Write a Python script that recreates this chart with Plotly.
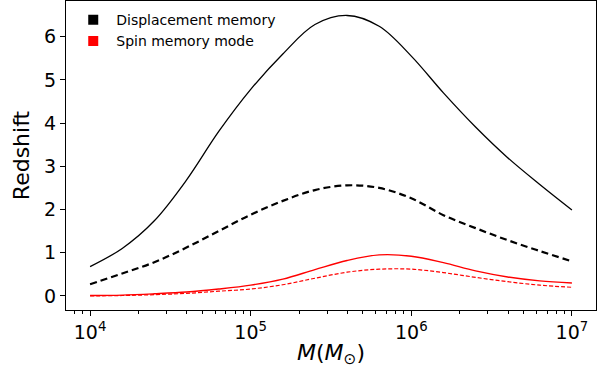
import plotly.graph_objects as go

# log10 of mass (M_sun) at which values were read
log_mass = [4.0, 4.2, 4.4, 4.6, 4.8, 5.0, 5.2, 5.4, 5.6, 5.8, 6.0, 6.2, 6.4, 6.6, 6.8, 7.0]

disp_solid = [0.68, 1.10, 1.74, 2.68, 3.80, 4.78, 5.60, 6.28, 6.49, 6.24, 5.55, 4.70, 3.91, 3.20, 2.58, 1.99]
disp_dash = [0.27, 0.52, 0.78, 1.12, 1.50, 1.88, 2.20, 2.45, 2.56, 2.50, 2.26, 1.87, 1.57, 1.29, 1.04, 0.80]
spin_solid = [0.01, 0.02, 0.05, 0.09, 0.16, 0.25, 0.39, 0.61, 0.82, 0.95, 0.92, 0.77, 0.58, 0.44, 0.35, 0.30]
spin_dash = [0.00, 0.01, 0.03, 0.06, 0.11, 0.16, 0.26, 0.41, 0.55, 0.62, 0.62, 0.54, 0.43, 0.33, 0.25, 0.20]

legend_names = ["Displacement memory", "Spin memory mode"]
legend_colors = ["black", "red"]

x_tickvals = [1e4, 1e5, 1e6, 1e7]
x_ticktext = ["10<sup>4</sup>", "10<sup>5</sup>", "10<sup>6</sup>", "10<sup>7</sup>"]
y_tickvals = [0, 1, 2, 3, 4, 5, 6]

mass = [10 ** v for v in log_mass]

fig = go.Figure()
fig.add_trace(go.Scatter(x=mass, y=disp_solid, mode="lines", line=dict(color="black", width=1.3, shape="spline", smoothing=1.0), showlegend=False))
fig.add_trace(go.Scatter(x=mass, y=disp_dash, mode="lines", line=dict(color="black", width=2.2, dash="7px,4px", shape="spline", smoothing=1.0), showlegend=False))
fig.add_trace(go.Scatter(x=mass, y=spin_solid, mode="lines", line=dict(color="red", width=1.4, shape="spline", smoothing=1.0), showlegend=False))
fig.add_trace(go.Scatter(x=mass, y=spin_dash, mode="lines", line=dict(color="red", width=1.2, dash="4px,2px", shape="spline", smoothing=1.0), showlegend=False))

for name, col in zip(legend_names, legend_colors):
    fig.add_trace(go.Scatter(x=[None], y=[None], mode="markers", name=name,
                             marker=dict(symbol="square", size=10, color=col)))

minor_vals = [m * 10 ** e for e in range(3, 8) for m in range(2, 10)]

fig.update_layout(
    width=607, height=376,
    margin=dict(l=66, r=11, t=1, b=66),
    paper_bgcolor="white", plot_bgcolor="white",
    font=dict(family="DejaVu Sans", color="black"),
    showlegend=True,
    legend=dict(x=0.008, y=0.99, xanchor="left", yanchor="top", bgcolor="rgba(0,0,0,0)",
                font=dict(size=14, family="DejaVu Sans"), itemwidth=36, tracegroupgap=0),
    xaxis=dict(type="log", range=[3.85, 7.15], tickvals=x_tickvals, ticktext=x_ticktext,
               ticks="outside", ticklen=5, tickwidth=1, tickcolor="black",
               showline=True, mirror=True, linecolor="black", linewidth=1,
               showgrid=False, zeroline=False, tickfont=dict(size=19),
               minor=dict(tickvals=minor_vals, ticks="outside", ticklen=3, tickwidth=0.8, tickcolor="black", showgrid=False),
               title=dict(text="<i>M</i>(<i>M</i><sub>⊙</sub>)", font=dict(size=22), standoff=2)),
    yaxis=dict(range=[-0.325, 6.825], tickvals=y_tickvals, ticks="outside", ticklen=5, tickwidth=1,
               tickcolor="black", showline=True, mirror=True, linecolor="black", linewidth=1,
               showgrid=False, zeroline=False, tickfont=dict(size=19),
               title=dict(text="Redshift", font=dict(size=22), standoff=8)),
)

fig.write_html("out.html")
